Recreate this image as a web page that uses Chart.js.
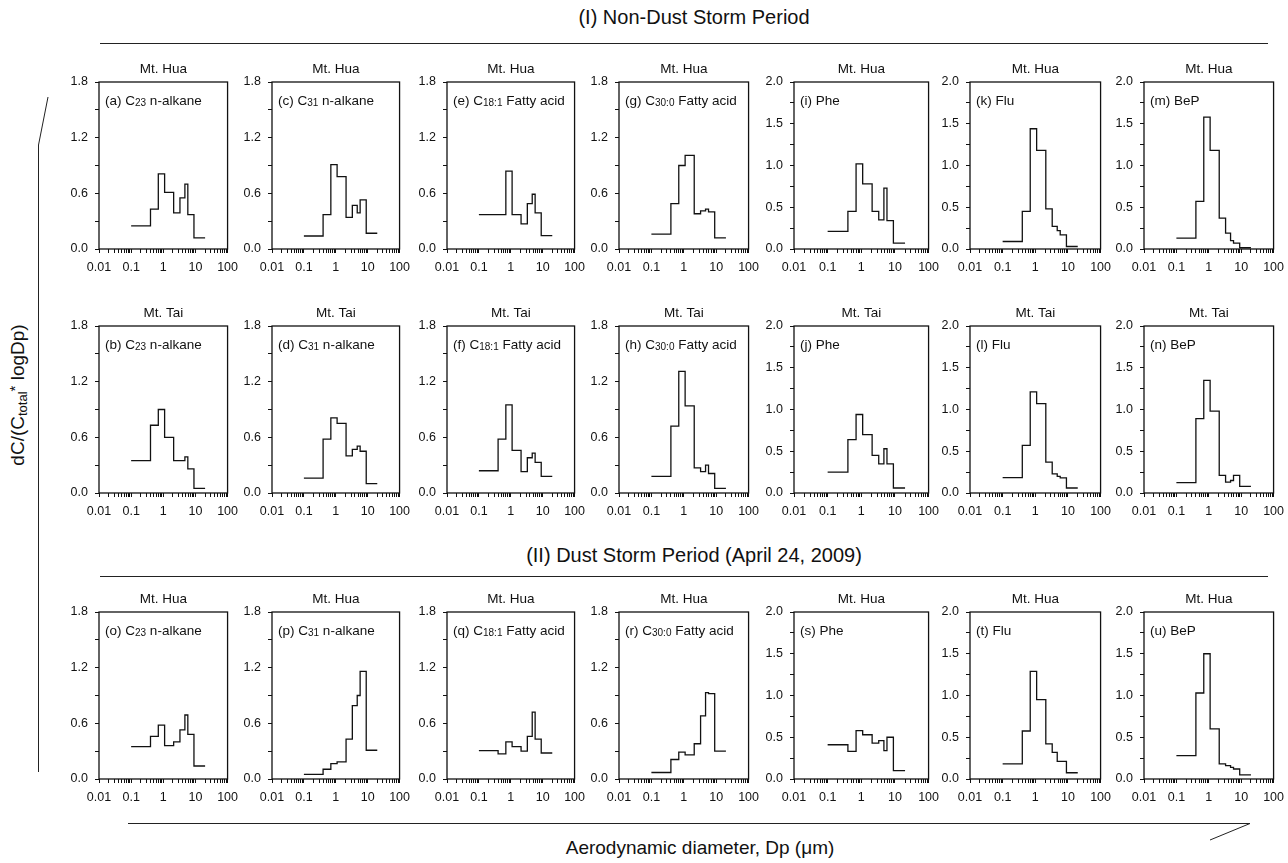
<!DOCTYPE html>
<html>
<head>
<meta charset="utf-8">
<title>Size distributions, Mt. Hua and Mt. Tai</title>
<script src="https://cdn.jsdelivr.net/npm/chart.js@4.4.1/dist/chart.umd.min.js"></script>
<style>
  body { margin: 0; background: #fff; width: 1288px; height: 863px; position: relative; overflow: hidden;
         font-family: "Liberation Sans", Arial, sans-serif; color: #111; }
  canvas { position: absolute; }
  .heading { position: absolute; font-size: 20px; white-space: nowrap; transform: translate(-50%, -50%); }
  .axis-title { position: absolute; font-size: 19px; white-space: nowrap; transform: translate(-50%, -50%); }
  #ytitle { position: absolute; left: 18px; top: 395px; font-size: 19px; white-space: nowrap;
            transform: translate(-50%, -50%) rotate(-90deg); }
  #ytitle sub { font-size: 13px; vertical-align: -3px; }
  #ytitle sup { font-size: 15px; vertical-align: 4px; }
  #deco { position: absolute; left: 0; top: 0; }
</style>
</head>
<body>
<div class="heading" style="left:694px; top:17px">(I) Non-Dust Storm Period</div>
<div class="heading" style="left:694px; top:555px">(II) Dust Storm Period (April 24, 2009)</div>
<div class="axis-title" style="left:700px; top:848px">Aerodynamic diameter, Dp (μm)</div>
<div id="ytitle">dC/(C<sub>total</sub><sup>*</sup> logDp)</div>
<svg id="deco" width="1288" height="863">
  <g stroke="#222" stroke-width="1" fill="none">
    <line x1="100" y1="43.5" x2="1268" y2="43.5"/>
    <line x1="100" y1="576.5" x2="1268" y2="576.5"/>
    <polyline points="48,97 38.5,145 38.5,772"/>
    <polyline points="128,823.5 1250,823.5 1210,840"/>
  </g>
</svg>
<div id="panels"></div>
<script>
// Andersen impactor stage edges (µm), last stage closed at 20 µm
const binEdges = [0.1, 0.4, 0.7, 1.1, 2.1, 3.3, 4.7, 5.8, 9.0, 20];

// (I) non-dust storm period, Mt. Hua
const huaC23  = [0.25, 0.43, 0.81, 0.61, 0.39, 0.55, 0.70, 0.37, 0.12];
const huaC31  = [0.14, 0.37, 0.91, 0.78, 0.34, 0.47, 0.39, 0.53, 0.17];
const huaC181 = [0.37, 0.37, 0.84, 0.37, 0.27, 0.49, 0.59, 0.39, 0.145];
const huaC300 = [0.16, 0.49, 0.90, 1.01, 0.38, 0.41, 0.43, 0.40, 0.12];
const huaPhe  = [0.21, 0.45, 1.02, 0.78, 0.45, 0.35, 0.73, 0.34, 0.07];
const huaFlu  = [0.09, 0.45, 1.44, 1.18, 0.48, 0.27, 0.22, 0.17, 0.03];
const huaBeP  = [0.13, 0.57, 1.58, 1.18, 0.37, 0.19, 0.10, 0.07, 0.015];

// (I) non-dust storm period, Mt. Tai
const taiC23  = [0.35, 0.73, 0.90, 0.60, 0.35, 0.35, 0.39, 0.26, 0.05];
const taiC31  = [0.16, 0.58, 0.81, 0.75, 0.40, 0.47, 0.505, 0.45, 0.10];
const taiC181 = [0.24, 0.58, 0.95, 0.46, 0.23, 0.38, 0.43, 0.33, 0.18];
const taiC300 = [0.18, 0.72, 1.31, 0.94, 0.27, 0.23, 0.30, 0.21, 0.05];
const taiPhe  = [0.25, 0.64, 0.94, 0.70, 0.45, 0.35, 0.53, 0.35, 0.06];
const taiFlu  = [0.185, 0.57, 1.21, 1.07, 0.37, 0.23, 0.20, 0.18, 0.06];
const taiBeP  = [0.125, 0.89, 1.35, 0.98, 0.21, 0.13, 0.15, 0.21, 0.08];

// (II) dust storm, Mt. Hua, April 24 2009
const dustC23  = [0.35, 0.46, 0.58, 0.36, 0.40, 0.53, 0.69, 0.48, 0.14];
const dustC31  = [0.05, 0.105, 0.165, 0.185, 0.43, 0.79, 0.90, 1.16, 0.31];
const dustC181 = [0.305, 0.27, 0.40, 0.35, 0.30, 0.46, 0.72, 0.43, 0.28];
const dustC300 = [0.07, 0.21, 0.29, 0.26, 0.38, 0.68, 0.93, 0.92, 0.30];
const dustPhe  = [0.41, 0.33, 0.58, 0.53, 0.43, 0.46, 0.34, 0.50, 0.10];
const dustFlu  = [0.18, 0.575, 1.29, 0.95, 0.42, 0.32, 0.21, 0.21, 0.075];
const dustBeP  = [0.28, 1.03, 1.50, 0.60, 0.18, 0.16, 0.14, 0.12, 0.05];

// compound names: [prefix, subscript, suffix]
const compounds = [
  ['C', '23', ' n-alkane'],
  ['C', '31', ' n-alkane'],
  ['C', '18:1', ' Fatty acid'],
  ['C', '30:0', ' Fatty acid'],
  ['Phe'], ['Flu'], ['BeP']
];
const rowSites = ['Mt. Hua', 'Mt. Tai', 'Mt. Hua'];
const rowLetters = [
  ['a', 'c', 'e', 'g', 'i', 'k', 'm'],
  ['b', 'd', 'f', 'h', 'j', 'l', 'n'],
  ['o', 'p', 'q', 'r', 's', 't', 'u']
];
const rowSeries = [
  [huaC23, huaC31, huaC181, huaC300, huaPhe, huaFlu, huaBeP],
  [taiC23, taiC31, taiC181, taiC300, taiPhe, taiFlu, taiBeP],
  [dustC23, dustC31, dustC181, dustC300, dustPhe, dustFlu, dustBeP]
];

// axis ticks
const xDecades = [0.01, 0.1, 1, 10, 100];
const xTickLabels = ['0.01', '0.1', '1', '10', '100'];
const yTicksFatty = [0, 0.3, 0.6, 0.9, 1.2, 1.5, 1.8];
const yLabelsFatty = ['0.0', '', '0.6', '', '1.2', '', '1.8'];
const yTicksPah = [0, 0.25, 0.5, 0.75, 1.0, 1.25, 1.5, 1.75, 2.0];
const yLabelsPah = ['0.0', '', '0.5', '', '1.0', '', '1.5', '', '2.0'];

// panel placement
const colLeft = [99, 272, 447, 619, 794, 970, 1144];
const colWidth = [130, 129, 129, 131, 136, 132, 131];
const rowTop = [82, 326, 612];
const plotHeight = 167;
const axisW = 50, titleH = 30, axisH = 30, padRight = 16;

const FONT = '"Liberation Sans", Arial, sans-serif';
const INK = '#111';

// log minor ticks 2..9 within each decade
const xTickValues = [];
xDecades.forEach((d, i) => {
  xTickValues.push(d);
  if (i < xDecades.length - 1) {
    for (let m = 2; m <= 9; m++) xTickValues.push(+(d * m).toPrecision(3));
  }
});

function xLabel(v) {
  const i = xDecades.findIndex(d => Math.abs(Math.log10(d) - Math.log10(v)) < 1e-6);
  return i >= 0 ? xTickLabels[i] : '';
}

// stage value holds from its lower edge to the next edge
function stepPoints(values) {
  const pts = values.map((v, i) => ({ x: binEdges[i], y: v }));
  pts.push({ x: binEdges[binEdges.length - 1], y: values[values.length - 1] });
  return pts;
}

const framePlugin = {
  id: 'frame',
  afterDraw(chart) {
    const { ctx, chartArea: a } = chart;
    ctx.save();
    ctx.strokeStyle = INK;
    ctx.lineWidth = 1.3;
    ctx.strokeRect(a.left, a.top, a.right - a.left, a.bottom - a.top);
    ctx.restore();
  }
};

const panelLabelPlugin = {
  id: 'panelLabel',
  afterDraw(chart, args, opts) {
    const { ctx, chartArea: a } = chart;
    let x = a.left + 6;
    const y = a.top + 23;
    ctx.save();
    ctx.fillStyle = INK;
    ctx.textBaseline = 'alphabetic';
    opts.parts.forEach((part, i) => {
      const sub = i === 1;
      ctx.font = (sub ? '10px ' : '13.5px ') + FONT;
      ctx.fillText(part, x, y + (sub ? 1 : 0));
      x += ctx.measureText(part).width;
    });
    ctx.restore();
  }
};

const host = document.getElementById('panels');

rowSeries.forEach((series, r) => {
  series.forEach((values, c) => {
    const pah = c >= 4;
    const yTicks = pah ? yTicksPah : yTicksFatty;
    const yLabels = pah ? yLabelsPah : yLabelsFatty;
    const name = compounds[c];
    const parts = name.length > 1
      ? ['(' + rowLetters[r][c] + ') ' + name[0], name[1], name[2]]
      : ['(' + rowLetters[r][c] + ') ' + name[0]];

    const canvas = document.createElement('canvas');
    canvas.width = axisW + colWidth[c] + padRight;
    canvas.height = titleH + plotHeight + axisH;
    canvas.style.left = (colLeft[c] - axisW) + 'px';
    canvas.style.top = (rowTop[r] - titleH) + 'px';
    host.appendChild(canvas);

    new Chart(canvas.getContext('2d'), {
      type: 'line',
      data: {
        datasets: [{
          data: stepPoints(values),
          stepped: 'before',
          borderColor: INK,
          borderWidth: 1.3,
          pointRadius: 0,
          fill: false
        }]
      },
      options: {
        responsive: false,
        animation: false,
        devicePixelRatio: 1,
        events: [],
        layout: { padding: { left: 0, right: padRight, top: 0, bottom: 0 } },
        plugins: {
          legend: { display: false },
          tooltip: { enabled: false },
          title: {
            display: true,
            fullSize: false,
            text: rowSites[r],
            color: INK,
            font: { family: FONT, size: 13.5, weight: 'normal', lineHeight: 1.2 },
            padding: { top: 9.5, bottom: 4.3 }
          },
          panelLabel: { parts }
        },
        scales: {
          x: {
            type: 'logarithmic',
            min: 0.01,
            max: 100,
            afterBuildTicks: s => { s.ticks = xTickValues.map(v => ({ value: v })); },
            afterFit: s => { s.height = axisH; },
            border: { display: false },
            grid: { drawOnChartArea: false, drawTicks: true, tickLength: 4, tickColor: INK, tickWidth: 1 },
            ticks: {
              autoSkip: false, maxRotation: 0, minRotation: 0, padding: 7,
              color: INK, font: { family: FONT, size: 12.5 },
              callback: v => xLabel(v)
            }
          },
          y: {
            min: 0,
            max: yTicks[yTicks.length - 1],
            afterBuildTicks: s => { s.ticks = yTicks.map(v => ({ value: v })); },
            afterFit: s => { s.width = axisW; },
            border: { display: false },
            grid: { drawOnChartArea: false, drawTicks: true, tickLength: 4, tickColor: INK, tickWidth: 1 },
            ticks: {
              autoSkip: false, padding: 7,
              color: INK, font: { family: FONT, size: 12.5 },
              callback: (v, i) => yLabels[i]
            }
          }
        }
      },
      plugins: [framePlugin, panelLabelPlugin]
    });
  });
});
</script>
</body>
</html>
